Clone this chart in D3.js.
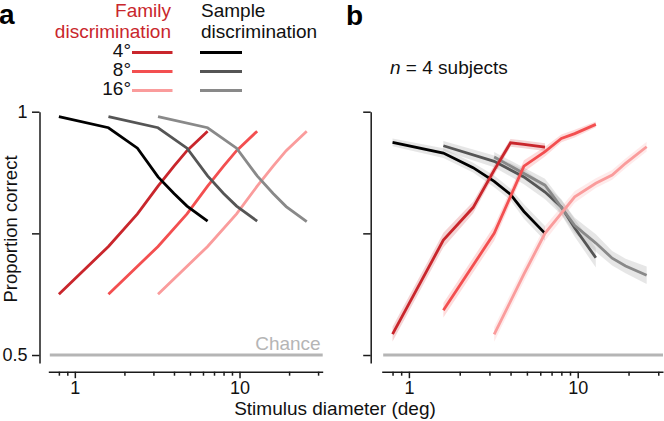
<!DOCTYPE html>
<html>
<head>
<meta charset="utf-8">
<script src="https://cdn.jsdelivr.net/npm/d3@7/dist/d3.min.js"></script>
<style>
  html, body { margin: 0; padding: 0; background: #fff; }
  svg { display: block; font-family: "Liberation Sans", Arial, Helvetica, sans-serif; }
</style>
</head>
<body>
<svg id="chart" width="664" height="421"></svg>
<script>
// ---------------- data ----------------
const x4 = [0.8, 1.6, 2.4, 3.2, 4.0, 4.8, 6.4];
const x8 = [1.6, 3.2, 4.8, 6.4, 8.0, 9.6, 12.8];
const x16 = [3.2, 6.4, 9.6, 12.8, 16.0, 19.2, 25.6];

// Panel a (model)
const aSample4 = [0.99, 0.967, 0.925, 0.866, 0.832, 0.806, 0.775];
const aSample8 = [0.99, 0.967, 0.925, 0.868, 0.832, 0.806, 0.775];
const aSample16 = [0.99, 0.967, 0.925, 0.868, 0.832, 0.805, 0.774];
const aFamily4 = [0.625, 0.723, 0.79, 0.847, 0.888, 0.92, 0.96];
const aFamily8 = [0.625, 0.723, 0.79, 0.847, 0.888, 0.92, 0.96];
const aFamily16 = [0.625, 0.723, 0.79, 0.847, 0.888, 0.92, 0.96];

// Panel b (subjects, mean ± sem)
const bSample4 = [0.937, 0.915, 0.885, 0.857, 0.83, 0.795, 0.75];
const bSample4Sem = [0.008, 0.01, 0.01, 0.012, 0.012, 0.015, 0.015];
const bSample8 = [0.93, 0.898, 0.866, 0.835, 0.804, 0.761, 0.70];
const bSample8Sem = [0.01, 0.012, 0.015, 0.015, 0.016, 0.018, 0.02];
const bSample16 = [0.907, 0.849, 0.766, 0.73, 0.699, 0.683, 0.664];
const bSample16Sem = [0.01, 0.013, 0.016, 0.018, 0.015, 0.015, 0.018];
const bFamily4 = [0.543, 0.736, 0.803, 0.88, 0.936, 0.933, 0.927];
const bFamily4Sem = [0.015, 0.015, 0.012, 0.01, 0.008, 0.008, 0.008];
const bFamily8 = [0.592, 0.75, 0.888, 0.918, 0.945, 0.955, 0.974];
const bFamily8Sem = [0.015, 0.015, 0.012, 0.01, 0.008, 0.008, 0.006];
const bFamily16 = [0.5425, 0.666, 0.75, 0.825, 0.853, 0.87, 0.894, 0.928];
const x16f = [3.2, 4.8, 6.4, 9.6, 12.8, 16.0, 19.2, 25.6];
const bFamily16Sem = [0.015, 0.015, 0.015, 0.012, 0.01, 0.01, 0.01, 0.01];

const legendSizes = ["4°", "8°", "16°"];
const familyColors = ["#c9262c", "#f34f50", "#fa9c9c"];
const sampleColors = ["#000000", "#555555", "#898989"];

const xMajorTicks = [1, 10];
const xMinorTicks = [0.8, 0.9, 2, 3, 4, 5, 6, 7, 8, 9, 20, 30];
const yTicks = [0.5, 0.75, 1];
const chanceLevel = 0.5;

// ---------------- layout ----------------
const svg = d3.select("#chart");
const FONT = 19;
const xDomain = [0.69, 32];
const yDomain = [0.4836, 1];

const panels = [
  { x: d3.scaleLog().domain(xDomain).range([48.3, 322.7]), axisX: 39.5, labels: true },
  { x: d3.scaleLog().domain(xDomain).range([381.7, 663]), axisX: 370.7, labels: false }
];
const y = d3.scaleLinear().domain(yDomain).range([363, 111.7]);
const axisY = 371.7;

function drawAxes(p) {
  const gMinor = svg.append("g").attr("transform", `translate(0,${axisY})`)
    .call(d3.axisBottom(p.x).tickValues(xMinorTicks).tickSize(4).tickSizeOuter(0).tickFormat(""));
  const gMajor = svg.append("g").attr("transform", `translate(0,${axisY})`)
    .call(d3.axisBottom(p.x).tickValues(xMajorTicks).tickSize(6.5).tickSizeOuter(0).tickPadding(3.5)
      .tickFormat(d3.format("d")));
  gMajor.select(".domain").remove();
  [gMinor, gMajor].forEach(g => {
    g.selectAll(".domain, line").attr("stroke", "#1a1a1a").attr("stroke-width", 1.5);
    g.selectAll("text").attr("font-size", 18).attr("fill", "#111").attr("font-family", null);
  });
  const gy = svg.append("g").attr("transform", `translate(${p.axisX},0)`)
    .call(d3.axisLeft(y).tickValues(yTicks).tickSize(7.5).tickSizeOuter(0).tickPadding(4.5)
      .tickFormat(d => p.labels ? (d === 1 ? "1" : d === 0.5 ? "0.5" : "") : ""));
  gy.selectAll(".domain, line").attr("stroke", "#1a1a1a").attr("stroke-width", 1.5);
  gy.selectAll("text").attr("font-size", 18).attr("fill", "#111").attr("font-family", null);

  svg.append("line")
    .attr("x1", p.x.range()[0] + 1.5).attr("x2", p.x.range()[1])
    .attr("y1", y(chanceLevel)).attr("y2", y(chanceLevel))
    .attr("stroke", "#b5b5b5").attr("stroke-width", 3);
}
panels.forEach(drawAxes);

const line = (xs, sx) => d3.line().x((d, i) => sx(xs[i])).y(d => y(d));
const area = (xs, sem, sx) => d3.area().x((d, i) => sx(xs[i]))
  .y0((d, i) => y(d - sem[i])).y1((d, i) => y(d + sem[i]));

// Panel a
const pa = panels[0];
const aFam = [[x4, aFamily4], [x8, aFamily8], [x16, aFamily16]];
const aSam = [[x4, aSample4], [x8, aSample8], [x16, aSample16]];
aFam.forEach(([xs, v], i) => {
  svg.append("path").datum(v).attr("d", line(xs, pa.x)).attr("fill", "none")
    .attr("stroke", familyColors[i]).attr("stroke-width", 2.8);
});
aSam.forEach(([xs, v], i) => {
  svg.append("path").datum(v).attr("d", line(xs, pa.x)).attr("fill", "none")
    .attr("stroke", sampleColors[i]).attr("stroke-width", 2.8);
});

// Panel b
const pb = panels[1];
const bSam = [[x4, bSample4, bSample4Sem], [x8, bSample8, bSample8Sem], [x16, bSample16, bSample16Sem]];
const bFam = [[x4, bFamily4, bFamily4Sem], [x8, bFamily8, bFamily8Sem], [x16f, bFamily16, bFamily16Sem]];
bSam.forEach(([xs, v, s], i) => {
  svg.append("path").datum(v).attr("d", area(xs, s, pb.x))
    .attr("fill", "#9a9a9a").attr("fill-opacity", 0.25);
});
bFam.forEach(([xs, v, s], i) => {
  svg.append("path").datum(v).attr("d", area(xs, s, pb.x))
    .attr("fill", familyColors[i]).attr("fill-opacity", 0.2);
});
bSam.forEach(([xs, v], i) => {
  svg.append("path").datum(v).attr("d", line(xs, pb.x)).attr("fill", "none")
    .attr("stroke", sampleColors[i]).attr("stroke-width", 2.8);
});
bFam.forEach(([xs, v], i) => {
  svg.append("path").datum(v).attr("d", line(xs, pb.x)).attr("fill", "none")
    .attr("stroke", familyColors[i]).attr("stroke-width", 2.8);
});

// ---------------- texts ----------------
svg.append("text").attr("x", -1).attr("y", 24).attr("font-size", 28).attr("font-weight", "bold").text("a");
svg.append("text").attr("x", 346).attr("y", 25).attr("font-size", 28).attr("font-weight", "bold").text("b");

svg.append("text").attr("x", pa.x.range()[1] - 2).attr("y", y(chanceLevel) - 5)
  .attr("text-anchor", "end").attr("font-size", FONT).attr("fill", "#b5b5b5").text("Chance");

svg.append("text").attr("transform", "translate(17,229) rotate(-90)")
  .attr("text-anchor", "middle").attr("font-size", 18.5).attr("fill", "#111").text("Proportion correct");

svg.append("text").attr("x", 335).attr("y", 415)
  .attr("text-anchor", "middle").attr("font-size", FONT).attr("fill", "#111").text("Stimulus diameter (deg)");

const nText = svg.append("text").attr("x", 390).attr("y", 74).attr("font-size", FONT).attr("fill", "#111");
nText.append("tspan").attr("font-style", "italic").text("n");
nText.append("tspan").text(" = 4 subjects");

// legend
svg.append("text").attr("x", 171).attr("y", 16.5).attr("text-anchor", "end")
  .attr("font-size", FONT).attr("fill", "#c9262c").text("Family");
svg.append("text").attr("x", 171).attr("y", 37.5).attr("text-anchor", "end")
  .attr("font-size", FONT).attr("fill", "#c9262c").text("discrimination");
svg.append("text").attr("x", 201).attr("y", 16.5)
  .attr("font-size", FONT).attr("fill", "#111").text("Sample");
svg.append("text").attr("x", 201).attr("y", 37.5)
  .attr("font-size", FONT).attr("fill", "#111").text("discrimination");

const legBase = [57.3, 76.3, 95.3];
legendSizes.forEach((lab, i) => {
  svg.append("text").attr("x", 131).attr("y", legBase[i]).attr("text-anchor", "end")
    .attr("font-size", FONT).attr("fill", "#111").text(lab);
  svg.append("line").attr("x1", 132).attr("x2", 172.5)
    .attr("y1", legBase[i] - 4.8).attr("y2", legBase[i] - 4.8)
    .attr("stroke", familyColors[i]).attr("stroke-width", 2.8);
  svg.append("line").attr("x1", 200).attr("x2", 242)
    .attr("y1", legBase[i] - 4.8).attr("y2", legBase[i] - 4.8)
    .attr("stroke", sampleColors[i]).attr("stroke-width", 2.8);
});
</script>
</body>
</html>
